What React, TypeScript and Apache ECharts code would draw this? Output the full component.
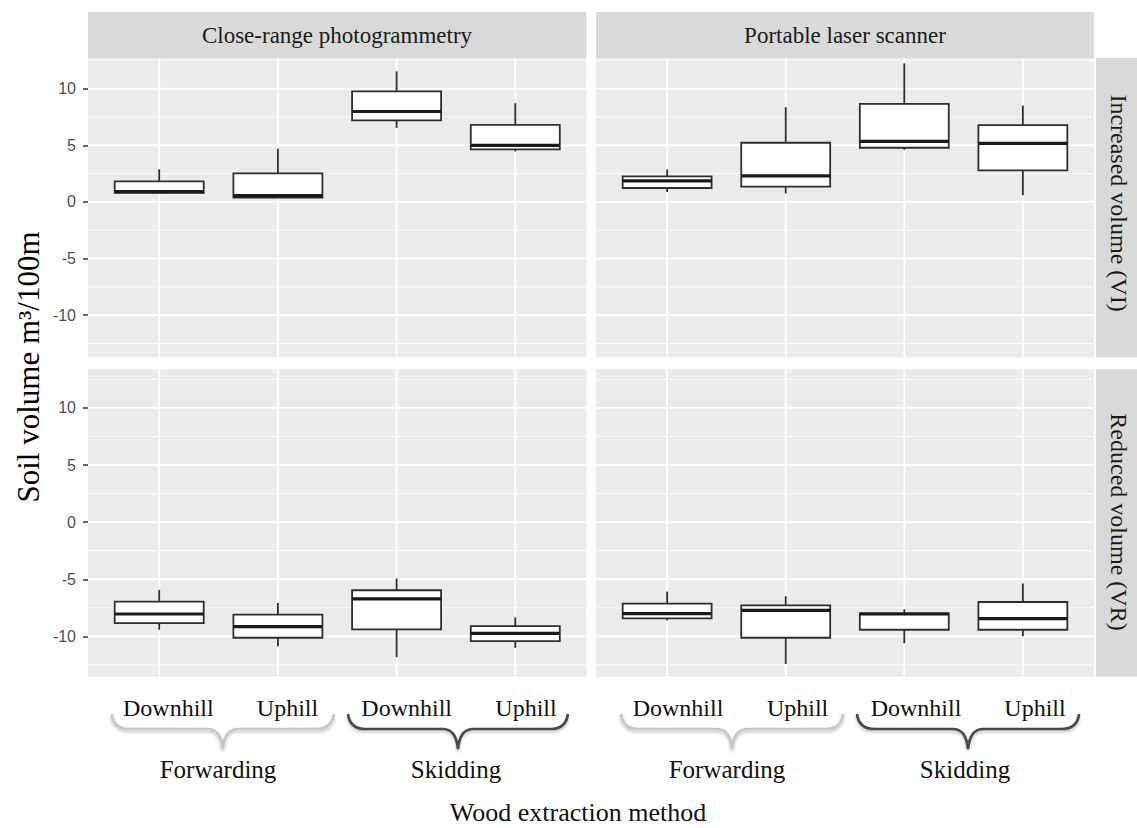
import React, { useEffect, useRef } from "react";
import * as echarts from "echarts";

// ---- data ----
const categories = ["Downhill", "Uphill", "Downhill", "Uphill"];
const methods = ["Forwarding", "Skidding"];
const instruments = ["Close-range photogrammetry", "Portable laser scanner"];
const volumeTypes = ["Increased volume (VI)", "Reduced volume (VR)"];
const yTicks = [-10, -5, 0, 5, 10];
const majorGrid = [-10, -5, 0, 5, 10];
const minorGrid = [-12.5, -7.5, -2.5, 2.5, 7.5, 12.5];

// [lower whisker, Q1, median, Q3, upper whisker]
const crpIncreased = [
  [0.79, 0.79, 0.91, 1.81, 2.87],
  [0.38, 0.38, 0.56, 2.52, 4.7],
  [6.54, 7.19, 7.98, 9.76, 11.52],
  [4.46, 4.63, 4.99, 6.8, 8.71],
];
const plsIncreased = [
  [0.88, 1.23, 1.85, 2.26, 2.87],
  [0.74, 1.35, 2.29, 5.22, 8.36],
  [4.6, 4.78, 5.34, 8.65, 12.23],
  [0.59, 2.79, 5.16, 6.77, 8.5],
];
const crpReduced = [
  [-9.42, -8.84, -8.04, -6.96, -5.93],
  [-10.86, -10.12, -9.15, -8.1, -7.08],
  [-11.83, -9.39, -6.72, -5.96, -4.93],
  [-11.0, -10.42, -9.74, -9.1, -8.34],
];
const plsReduced = [
  [-8.6, -8.42, -8.01, -7.13, -6.08],
  [-12.41, -10.12, -7.72, -7.28, -6.49],
  [-10.6, -9.42, -8.04, -7.98, -7.63],
  [-9.98, -9.42, -8.45, -6.99, -5.37],
];

const SERIF = "Liberation Serif";
const SANS = "Liberation Sans";

const BRACE_D =
  "M0,0 C1,9 6,15 18,15 L95,15 C105,15 109,22 110.5,35 C112,22 116,15 126,15 L203,15 C215,15 220,9 221,0";

let registered = false;
function ensureShapes() {
  if (registered) return;
  echarts.graphic.registerShape("brace", echarts.graphic.extendPath(BRACE_D, {}) as any);
  registered = true;
}

function renderBox(params: any, api: any) {
  const x = api.value(0);
  const lo = api.coord([x, api.value(1)]);
  const q1 = api.coord([x, api.value(2)]);
  const med = api.coord([x, api.value(3)]);
  const q3 = api.coord([x, api.value(4)]);
  const hi = api.coord([x, api.value(5)]);
  const w = api.size([0.75, 0])[0];
  const cx = lo[0];
  const edge = { stroke: "#2e2e2e", lineWidth: 1.8 };
  return {
    type: "group",
    children: [
      { type: "line", shape: { x1: cx, y1: hi[1], x2: cx, y2: q3[1] }, style: edge },
      { type: "line", shape: { x1: cx, y1: q1[1], x2: cx, y2: lo[1] }, style: edge },
      {
        type: "rect",
        shape: { x: cx - w / 2, y: q3[1], width: w, height: q1[1] - q3[1] },
        style: { fill: "#ffffff", ...edge },
      },
      {
        type: "line",
        shape: { x1: cx - w / 2, y1: med[1], x2: cx + w / 2, y2: med[1] },
        style: { stroke: "#1a1a1a", lineWidth: 3.2 },
      },
    ],
  };
}

function renderHGrid(params: any, api: any) {
  const v = api.value(0);
  const major = api.value(1);
  const cs = params.coordSys;
  const y = api.coord([1, v])[1];
  return {
    type: "line",
    shape: { x1: cs.x, y1: y, x2: cs.x + cs.width, y2: y },
    style: { stroke: "#ffffff", lineWidth: major ? 1.8 : 0.9 },
  };
}

function renderVGrid(params: any, api: any) {
  const c = api.value(0);
  const cs = params.coordSys;
  const x = api.coord([c, 0])[0];
  return {
    type: "line",
    shape: { x1: x, y1: cs.y, x2: x, y2: cs.y + cs.height },
    style: { stroke: "#ffffff", lineWidth: 1.8 },
  };
}

export default function App() {
  const ref = useRef<HTMLDivElement>(null);

  useEffect(() => {
    if (!ref.current) return;
    ensureShapes();
    const chart = echarts.init(ref.current, null, { renderer: "svg" });

    const grids = [
      { left: 88, top: 58, width: 498.5, height: 299.5 },
      { left: 596, top: 58, width: 498, height: 299.5 },
      { left: 88, top: 369.3, width: 498.5, height: 307.4 },
      { left: 596, top: 369.3, width: 498, height: 307.4 },
    ];
    const yRanges = [
      [-13.73, 12.7],
      [-13.73, 12.7],
      [-13.53, 13.38],
      [-13.53, 13.38],
    ];
    const panelData = [crpIncreased, plsIncreased, crpReduced, plsReduced];

    const hGridData = [
      ...majorGrid.map((v) => [v, 1]),
      ...minorGrid.map((v) => [v, 0]),
    ];
    const vGridData = categories.map((_, i) => [i + 1]);

    const series: any[] = [];
    panelData.forEach((boxes, p) => {
      series.push({
        type: "custom",
        xAxisIndex: p,
        yAxisIndex: p,
        silent: true,
        z: 1,
        data: hGridData,
        renderItem: renderHGrid,
      });
      series.push({
        type: "custom",
        xAxisIndex: p,
        yAxisIndex: p,
        silent: true,
        z: 1,
        data: vGridData,
        renderItem: renderVGrid,
      });
      series.push({
        type: "custom",
        xAxisIndex: p,
        yAxisIndex: p,
        silent: true,
        z: 5,
        data: boxes.map((b, i) => [i + 1, ...b]),
        renderItem: renderBox,
      });
    });

    const braceSpecs = [
      { x: 111.7, w: 222, dark: false },
      { x: 348, w: 220, dark: true },
      { x: 621, w: 222, dark: false },
      { x: 857, w: 222, dark: true },
    ];
    const catLabelX = [168.3, 287.5, 406.7, 526, 678, 797.6, 916, 1035];
    const methodLabelX = [218, 456, 727, 965];

    const graphic: any[] = [];
    // top strips
    [
      { x: 88, w: 498.5, cx: 337 },
      { x: 596, w: 498, cx: 845 },
    ].forEach((s, i) => {
      graphic.push({
        type: "rect",
        shape: { x: s.x, y: 12, width: s.w, height: 46 },
        style: { fill: "#d9d9d9" },
      });
      graphic.push({
        type: "text",
        x: s.cx,
        y: 35,
        style: {
          text: instruments[i],
          fontFamily: SERIF,
          fontSize: 23,
          fill: "#1a1a1a",
          align: "center",
          verticalAlign: "middle",
        },
      });
    });
    // right strips
    [
      { y: 58, h: 299.5, cy: 203 },
      { y: 369.3, h: 307.4, cy: 522 },
    ].forEach((s, i) => {
      graphic.push({
        type: "rect",
        shape: { x: 1096, y: s.y, width: 41, height: s.h },
        style: { fill: "#d9d9d9" },
      });
      graphic.push({
        type: "text",
        x: 1119,
        y: s.cy,
        rotation: -Math.PI / 2,
        style: {
          text: volumeTypes[i],
          fontFamily: SERIF,
          fontSize: 24,
          fill: "#1a1a1a",
          align: "center",
          verticalAlign: "middle",
        },
      });
    });
    // y title
    graphic.push({
      type: "text",
      x: 28,
      y: 367,
      rotation: Math.PI / 2,
      style: {
        text: "Soil volume m³/100m",
        fontFamily: SERIF,
        fontSize: 31,
        fill: "#000000",
        align: "center",
        verticalAlign: "middle",
      },
    });
    // braces
    braceSpecs.forEach((b) => {
      graphic.push({
        type: "brace",
        x: b.x,
        y: 714,
        scaleX: b.w / 221,
        scaleY: 1,
        style: {
          fill: "none",
          stroke: b.dark ? "#4a4a4a" : "#c6c6c6",
          lineWidth: 2.6,
          shadowColor: "rgba(0,0,0,0.25)",
          shadowBlur: 3,
          shadowOffsetY: 2,
        },
      });
    });
    // category labels
    catLabelX.forEach((x, i) => {
      graphic.push({
        type: "text",
        x,
        y: 708,
        style: {
          text: categories[i % 4],
          fontFamily: SERIF,
          fontSize: 24,
          fill: "#111111",
          align: "center",
          verticalAlign: "middle",
        },
      });
    });
    methodLabelX.forEach((x, i) => {
      graphic.push({
        type: "text",
        x,
        y: 769,
        style: {
          text: methods[i % 2],
          fontFamily: SERIF,
          fontSize: 25,
          fill: "#111111",
          align: "center",
          verticalAlign: "middle",
        },
      });
    });
    graphic.push({
      type: "text",
      x: 578,
      y: 812,
      style: {
        text: "Wood extraction method",
        fontFamily: SERIF,
        fontSize: 26,
        fill: "#111111",
        align: "center",
        verticalAlign: "middle",
      },
    });

    const option: any = {
      animation: false,
      backgroundColor: "#ffffff",
      grid: grids.map((g) => ({
        ...g,
        show: true,
        backgroundColor: "#ebebeb",
        borderWidth: 0,
        containLabel: false,
      })),
      xAxis: grids.map((_, i) => ({
        type: "value",
        gridIndex: i,
        min: 0.4,
        max: 4.6,
        show: false,
        splitLine: { show: false },
      })),
      yAxis: grids.map((_, i) => {
        const left = i % 2 === 0;
        return {
          type: "value",
          gridIndex: i,
          min: yRanges[i][0],
          max: yRanges[i][1],
          axisLine: { show: false },
          splitLine: { show: false },
          axisTick: {
            show: left,
            length: 5,
            customValues: yTicks,
            lineStyle: { color: "#333333", width: 1.5 },
          },
          axisLabel: {
            show: left,
            customValues: yTicks,
            margin: 12,
            fontFamily: SANS,
            fontSize: 16,
            color: "#4d4d4d",
          },
        };
      }),
      series,
      graphic,
    };

    chart.setOption(option);
    return () => chart.dispose();
  }, []);

  return (
    <div
      ref={ref}
      style={{
        position: "fixed",
        left: 0,
        top: 0,
        width: 1137,
        height: 828,
        background: "#ffffff",
      }}
    />
  );
}
